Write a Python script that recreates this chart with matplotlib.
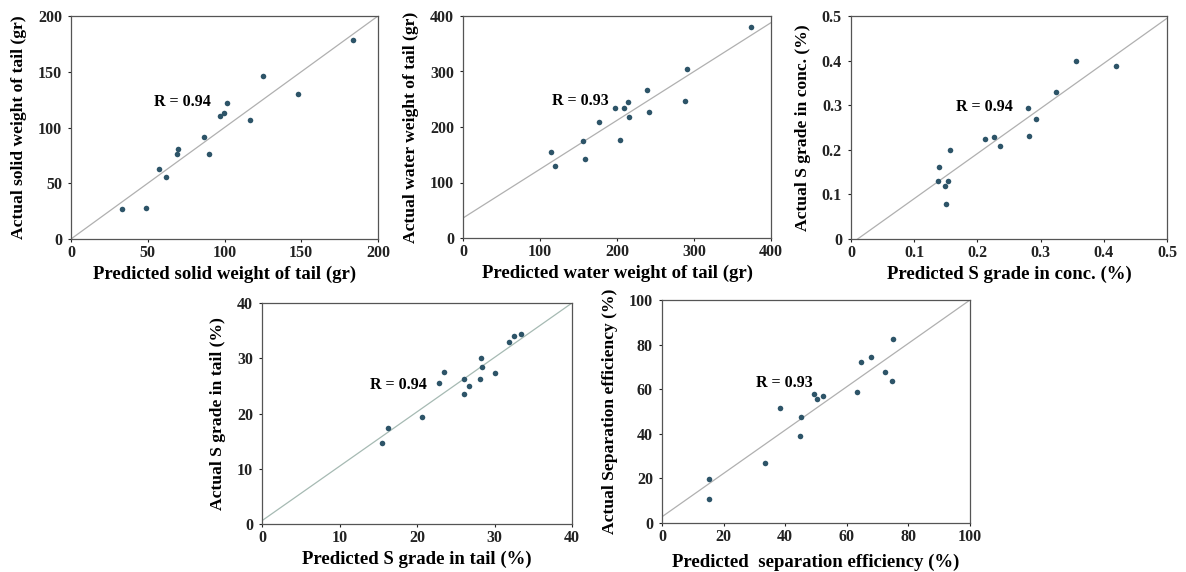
import numpy as np
import matplotlib.pyplot as plt

plt.rcParams['font.family'] = ['Liberation Serif', 'DejaVu Serif']
plt.rcParams['font.weight'] = 'bold'

# solid weight of tail
solid_pred = [33.2, 48.8, 57.2, 61.8, 69.6, 69.3, 86.9, 90.1, 96.9, 99.7, 101.8, 116.6, 124.8, 147.8, 183.5]
solid_act = [26.6, 27.5, 62.7, 55.2, 80.3, 75.8, 91.6, 76.1, 110.7, 113.4, 122.4, 106.6, 146.0, 129.9, 178.8]

# water weight of tail
water_pred = [114.8, 119.6, 156.0, 158.2, 177.2, 197.6, 204.1, 208.5, 214.5, 215.8, 238.4, 241.4, 288.2, 290.4, 374.4]
water_act = [154.5, 129.3, 174.3, 142.5, 209.6, 234.7, 176.0, 234.7, 244.3, 218.0, 267.0, 226.3, 247.3, 305.4, 380.2]

# S grade in concentrate
conc_pred = [0.137, 0.139, 0.148, 0.154, 0.150, 0.157, 0.212, 0.227, 0.236, 0.280, 0.281, 0.293, 0.325, 0.356, 0.420]
conc_act = [0.129, 0.162, 0.119, 0.129, 0.079, 0.200, 0.224, 0.229, 0.209, 0.294, 0.232, 0.269, 0.329, 0.399, 0.387]

# S grade in tail
tail_pred = [15.5, 16.2, 20.7, 22.9, 23.5, 26.0, 26.0, 26.7, 28.1, 28.3, 28.4, 30.1, 31.9, 32.5, 33.4]
tail_act = [14.6, 17.4, 19.3, 25.6, 27.5, 23.5, 26.2, 24.9, 26.3, 30.0, 28.5, 27.3, 33.0, 34.0, 34.4]

# separation efficiency
eff_pred = [15.1, 15.2, 33.6, 38.4, 44.9, 45.2, 49.3, 50.3, 52.2, 63.4, 64.6, 67.9, 72.5, 74.7, 74.9]
eff_act = [19.8, 10.8, 26.9, 51.6, 38.9, 47.5, 57.9, 55.4, 56.9, 58.7, 72.0, 74.4, 67.5, 63.6, 82.6]

# fit lines (intercept, slope) as drawn in the figure
fits = [(0.0, 1.0), (36.0, 0.88), (-0.0106, 1.011), (0.6, 0.985), (2.8, 0.972)]

panels = [
    (solid_pred, solid_act, 200, 50, "Predicted solid weight of tail (gr)", "Actual solid weight of tail (gr)", "R = 0.94", (54, 123)),
    (water_pred, water_act, 400, 100, "Predicted water weight of tail (gr)", "Actual water weight of tail (gr)", "R = 0.93", (115, 247)),
    (conc_pred, conc_act, 0.5, 0.1, "Predicted S grade in conc. (%)", "Actual S grade in conc. (%)", "R = 0.94", (0.166, 0.295)),
    (tail_pred, tail_act, 40, 10, "Predicted S grade in tail (%)", "Actual S grade in tail (%)", "R = 0.94", (14.0, 25.1)),
    (eff_pred, eff_act, 100, 20, "Predicted  separation efficiency (%)", "Actual Separation efficiency (%)", "R = 0.93", (30.5, 62.9)),
]

W, H = 1186, 572
boxes = [(71, 16, 378, 239), (463, 16, 771, 238), (851, 16, 1167, 239),
         (262, 303, 572, 524), (662, 300, 970, 523)]
line_cols = ['#b0b0b0', '#b0b0b0', '#b0b0b0', '#a6bab3', '#b0b0b0']
xpads = [3, 3, 3, 3, 6]

fig = plt.figure(figsize=(W / 100, H / 100), dpi=100)

for (xp, ya, lim, step, xl, yl, rtxt, rpos), (l, t, r, b), fit, lc, xpad in zip(panels, boxes, fits, line_cols, xpads):
    ax = fig.add_axes([l / W, 1 - b / H, (r - l) / W, (b - t) / H])
    ax.scatter(xp, ya, s=16, color='#2d5468', zorder=3, linewidths=0)
    xs = np.array([0, lim])
    ax.plot(xs, fit[0] + fit[1] * xs, color=lc, lw=0.9, zorder=2)
    ax.set_xlim(0, lim)
    ax.set_ylim(0, lim)
    ticks = np.arange(0, lim + step / 2, step)
    ax.set_xticks(ticks)
    ax.set_yticks(ticks)
    if step < 1:
        lbls = ['0'] + ['%.1f' % v for v in ticks[1:]]
    else:
        lbls = ['%d' % v for v in ticks]
    ax.set_xticklabels(lbls, fontsize=11.5, fontweight='bold')
    ax.set_yticklabels(lbls, fontsize=11.5, fontweight='bold')
    ax.tick_params(axis='x', direction='out', length=2.5, width=0.8, pad=2, colors='#222222')
    ax.tick_params(axis='y', direction='out', length=2.5, width=0.8, pad=4, colors='#222222')
    for sp in ax.spines.values():
        sp.set_color('#555555')
        sp.set_linewidth(0.9)
    ax.set_xlabel(xl, fontsize=13.5, fontweight='bold', labelpad=xpad)
    ax.set_ylabel(yl, fontsize=12.6, fontweight='bold', labelpad=8)
    ax.text(rpos[0], rpos[1], rtxt, fontsize=11.5, fontweight='bold', va='center', ha='left')

fig.savefig('out.png', dpi=100)
